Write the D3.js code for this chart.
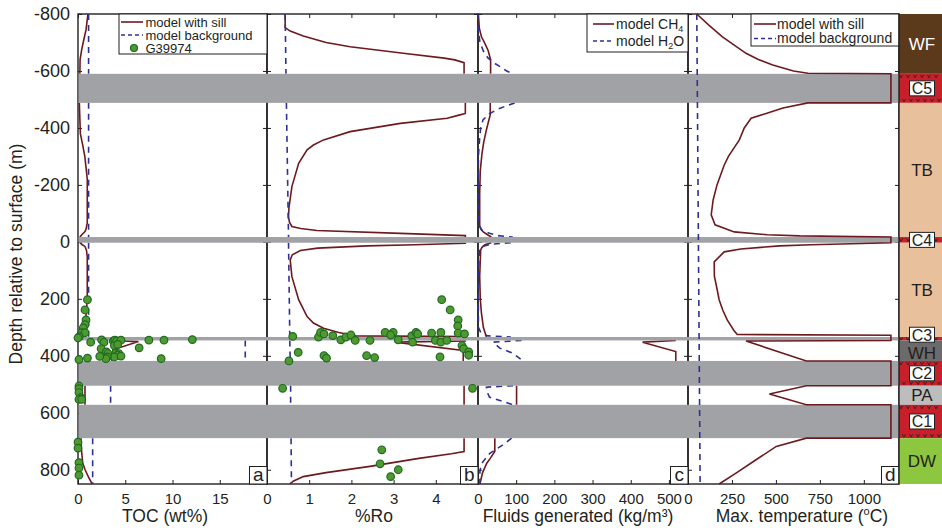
<!DOCTYPE html>
<meta charset="utf-8">
<style>
body {
    margin: 0px;
    background: #fff;
    font-family: "Liberation Sans", Arial, sans-serif;
}
text { fill: #231f20; }
.tick text { font-size: 15px; fill: #231f20; }
.ylab .tick text { font-size: 18px; }
.tick line { stroke: #231f20; stroke-width: 1; }
.border { fill: none; stroke: #231f20; stroke-width: 1.4; }
.sill-line { fill: none; stroke: #6d1a1f; stroke-width: 1.6; }
.bg-line { fill: none; stroke: #2e3192; stroke-width: 1.6; stroke-dasharray: 6,5; }
.band { fill: #a1a2a6; }
.obs { fill: #4f9a2f; stroke: #1f6a25; stroke-width: 1.2; }
.title { font-size: 17.5px; }
.legend text { font-size: 13px; }
.letter { font-size: 19px; }
.unit { font-size: 17px; }
.vmark { fill: none; stroke: #231f20; stroke-width: 0.8; }
</style>
<body>
<script src="https://d3js.org/d3.v7.min.js"></script>
<script>
var width = 942,
    height = 530

// depth axis
var depthTicks = [-800, -600, -400, -200, 0, 200, 400, 600, 800]

// x tick values for each panel
var tocTicks = [0, 5, 10, 15]
var roTicks = [0, 1, 2, 3, 4]
var fluidTicks = [0, 100, 200, 300, 400, 500]
var tempTicks = [0, 250, 500, 750, 1000]

// sills (depth top, base in m)
var sills = [
  {name: "C5", top: -590, base: -488},
  {name: "C4", top: -17, base: 3},
  {name: "C3", top: 334, base: 346},
  {name: "C2", top: 418, base: 505},
  {name: "C1", top: 572, base: 689}
]

// stratigraphic column
var units = [
  {name: "WF", kind: "WF", top: -800, base: -590},
  {name: "C5", kind: "C", top: -590, base: -488},
  {name: "TB", kind: "TB", top: -488, base: -17},
  {name: "C4", kind: "C", top: -17, base: 3},
  {name: "TB", kind: "TB", top: 3, base: 334},
  {name: "C3", kind: "C", top: 334, base: 346},
  {name: "WH", kind: "WH", top: 346, base: 418},
  {name: "C2", kind: "C", top: 418, base: 505},
  {name: "PA", kind: "PA", top: 505, base: 572},
  {name: "C1", kind: "C", top: 572, base: 689},
  {name: "DW", kind: "DW", top: 689, base: 850}
]

// curves: segments of [depth, value]
var tocSill = [
  [[-800,1.05],[-780,0.98],[-745,0.85],[-700,0.55],[-675,0.39],[-640,0.22],[-590,0.2]],
  [[-488,0.14],[-380,0.25],[-340,0.5],[-300,0.72],[-264,0.84],[-220,0.98],[-67,0.98],[-45,0.85],[-36,0.74],[-25,0.4],[-17,0.2]],
  [[3,0.2],[10,0.45],[16,0.74],[30,0.9],[52,0.98],[203,0.98],[262,0.84],[298,0.7],[320,0.56],[334,0.14]],
  [[346,3.55],[350,6.4],[379,3.7],[418,3.55]],
  [[505,0.74],[572,0.74]],
  [[689,0.32],[720,0.35],[750,0.42],[776,0.5],[800,0.75],[825,1.1],[850,1.5]]
]
var tocBg = [
  [[-800,1.12],[-590,1.12]],
  [[-488,1.12],[-17,1.12]],
  [[3,1.12],[334,1.12]],
  [[346,17.7],[418,17.7]],
  [[505,3.45],[572,3.45]],
  [[689,1.55],[850,1.55]]
]
var tocObs = [
  [203,1.0],[239,0.74],[274,0.85],[291,0.74],[302,0.56],[319,0.4],[319,0.74],[333,0.14],[337,0],
  [352,1.34],[344,2.5],[352,2.75],[348,3.73],[345,3.9],[348,4.1],[345,4.55],[364,3.85],[360,4.2],
  [375,2.45],[372,6.47],[345,7.5],[345,9.1],[343,12.1],[386,3.0],[392,3.17],[390,4.0],[392,4.32],
  [398,4.2],[404,3.85],[404,3.1],[410,2.95],[402,2.3],[408,1.0],[413,0.1],[410,8.8],[401,4.55],
  [506,0.1],[515,0.1],[529,0.1],[547,0.3],[553,0.1],[553,0.4],[703,0],[724,0],[775,0.1],[794,0.1],[819,0.1]
]

var roSill = [
  [[-800,0.43],[-752,0.43],[-740,0.55],[-723,0.86],[-700,1.4],[-685,1.97],[-662,3.23],[-645,4.2],[-639,4.45],[-629,4.67],[-590,4.67]],
  [[-488,4.7],[-451,4.7],[-445,4.55],[-434,4.27],[-416,3.16],[-387,1.97],[-358,1.34],[-340,1.1],[-323,0.95],[-276,0.75],[-194,0.59],[-120,0.52],[-89,0.51],[-70,0.53],[-54,0.59],[-47,0.8],[-40,1.18],[-30,3.16],[-22,4.7],[-17,4.7]],
  [[3,4.7],[5,4.7],[10,3.5],[14,2.37],[22,1.2],[30,0.79],[45,0.6],[63,0.55],[122,0.59],[203,0.75],[262,0.95],[285,1.1],[303,1.34],[318,1.7],[326,1.97],[330,2.1],[332,4.7],[334,4.7]],
  [[346,4.7],[348,4.7],[352,3.03],[381,4.65],[418,4.65]],
  [[505,4.67],[572,4.67]],
  [[689,4.67],[736,4.67],[744,4.37],[760,3.6],[788,2.44],[810,1.4],[824,0.86],[840,0.62],[850,0.54]]
]
var roBg = [
  [[-800,0.43],[-590,0.45]],
  [[-488,0.46],[-17,0.51]],
  [[3,0.51],[334,0.54]],
  [[346,0.54],[418,0.55]],
  [[505,0.56],[572,0.56]],
  [[689,0.57],[850,0.58]]
]
var roObs = [
  [203,4.14],[239,4.34],[274,4.53],[295,4.52],[320,4.53],[323,4.68],[332,0.61],[334,1.22],[318,1.27],
  [323,1.35],[329,1.56],[344,1.75],[334,1.87],[327,1.99],[346,2.09],[346,2.44],[318,2.8],[318,2.99],
  [327,2.93],[344,3.11],[330,3.43],[352,3.45],[318,3.53],[323,3.57],[320,3.9],[346,3.99],[318,4.12],
  [352,4.12],[346,4.26],[364,4.62],[375,4.66],[386,4.78],[398,4.78],[404,4.1],[388,0.74],[418,0.52],
  [399,1.35],[408,1.41],[399,2.36],[406,2.55],[514,0.37],[514,4.87],[730,2.72],[779,2.68],[800,3.11],[824,2.93]
]

var ch4Sill = [
  [[-800,1],[-750,3.5],[-720,9],[-697,18],[-670,27],[-639,33],[-590,33]],
  [[-488,32],[-446,32],[-420,27],[-393,22],[-350,15],[-311,10.5],[-250,6],[-171,4.4],[-54,4.4],[-45,8],[-36,13],[-25,25],[-17,35]],
  [[3,35],[10,18],[20,10],[28,7],[122,4.4],[200,6],[250,9],[300,14],[334,22]],
  [[346,518],[352,431],[385,518],[418,518]],
  [[505,101],[572,101]],
  [[689,44],[736,44],[760,32],[777,23],[810,12],[850,5]]
]
var h2oSill = [
  [[-800,0],[-768,0],[-740,1],[-702,5],[-670,14],[-646,26],[-630,40],[-615,58],[-600,75],[-590,92]],
  [[-488,96],[-478,75],[-466,52],[-450,30],[-428,13],[-400,7],[-358,4],[-300,1],[-100,1],[-60,3],[-42,9],[-30,30],[-22,52],[-17,91]],
  [[3,86],[8,34],[15,14],[30,4],[100,1],[300,1],[320,8],[330,26],[334,86]],
  [[346,114],[352,40],[373,57],[390,90],[418,118]],
  [[505,92],[510,22],[530,25],[545,30],[572,92]],
  [[689,88],[712,66],[742,31],[777,10],[804,5],[850,5]]
]

var tempSill = [
  [[-800,50],[-760,120],[-720,196],[-690,265],[-662,330],[-640,400],[-621,482],[-600,600],[-592,682],[-590,1154],
   [-488,1154],[-488,682],[-470,540],[-450,440],[-434,359],[-400,320],[-358,292],[-300,230],[-270,206],[-200,165],
   [-147,143],[-95,132],[-60,154],[-35,263],[-25,450],[-21,635],[-17,1154],[3,1154],[10,700],[14,520],[25,300],
   [35,206],[70,149],[120,150],[168,166],[203,177],[240,198],[274,223],[310,260],[325,280],[328,1154],[346,1154],
   [348,330],[418,673],[418,1154],[505,1154],[505,673],[534,463],[572,673],[572,1154],[689,1154],[689,673],
   [718,502],[765,387],[812,273],[850,177]]
]
var tempBg = [
  [[-800,50],[850,69]]
]

var unitColor = {WF: "#5b3a1c", C: "#c8202b", TB: "#e8c09b", WH: "#6b6b6b", PA: "#bdbdbd", DW: "#8dc63f"}

var plotTop = 14, plotBottom = 484

var y = d3.scaleLinear()
    .domain([-800, 850])
    .range([plotTop, plotBottom])

var panels = [
  {id: "a", range: [78, 267], domain: [0, 20], ticks: tocTicks, title: "TOC (wt%)", titleX: 165,
   sill: tocSill, bg: tocBg, obs: tocObs},
  {id: "b", range: [267, 478], domain: [0, 5], ticks: roTicks, title: "%Ro", titleX: 374,
   sill: roSill, bg: roBg, obs: roObs},
  {id: "c", range: [478, 688], domain: [0, 550], ticks: fluidTicks, title: "Fluids generated (kg/m\u00b3)", titleX: 578,
   sill: ch4Sill, bg: h2oSill, obs: []},
  {id: "d", range: [688, 899], domain: [0, 1200], ticks: tempTicks, title: null, titleX: 802,
   sill: tempSill, bg: tempBg, obs: []}
]

var svg = d3.select("body").append("svg")
    .attr("width", width)
    .attr("height", height)

panels.forEach(function(p) {
    p.x = d3.scaleLinear().domain(p.domain).range(p.range)
})

function lineFor(x) {
    return d3.line()
        .x(function(d) { return x(d[1]) })
        .y(function(d) { return y(d[0]) })
}

// plain hyphen for negatives, like the original
var fmt = function(d) { return String(d) }

// 1. borders and ticks (under the data, like the original)
panels.forEach(function(p) {
    var g = svg.append("g")
    g.append("g").attr("transform", "translate(" + p.range[0] + ",0)")
        .call(d3.axisRight(y).tickValues(depthTicks).tickSize(4).tickFormat(""))
    g.append("g").attr("transform", "translate(" + p.range[1] + ",0)")
        .call(d3.axisLeft(y).tickValues(depthTicks).tickSize(4).tickFormat(""))
    g.append("g").attr("transform", "translate(0," + plotBottom + ")")
        .call(d3.axisTop(p.x).tickValues(p.ticks).tickSize(4).tickFormat(""))
    g.append("g").attr("transform", "translate(0," + plotTop + ")")
        .call(d3.axisBottom(p.x).tickValues(p.ticks).tickSize(4).tickFormat(""))
    g.append("g").attr("transform", "translate(0," + plotBottom + ")")
        .call(d3.axisBottom(p.x).tickValues(p.ticks).tickSize(0).tickPadding(9).tickFormat(fmt))
    g.selectAll(".domain").remove()
    g.selectAll(".tick text").attr("font-family", null).attr("font-size", null)

    g.append("rect").attr("class", "border")
        .attr("x", p.range[0]).attr("y", plotTop)
        .attr("width", p.range[1] - p.range[0]).attr("height", plotBottom - plotTop)
})

// depth labels
var yl = svg.append("g").attr("class", "ylab")
    .attr("transform", "translate(78,0)")
    .call(d3.axisLeft(y).tickValues(depthTicks).tickSize(0).tickPadding(8).tickFormat(fmt))
yl.select(".domain").remove()
yl.selectAll(".tick text").attr("font-family", null).attr("font-size", null)

// 2. model curves for a, b, c (sill bands drawn over them)
panels.slice(0, 3).forEach(function(p) {
    var line = lineFor(p.x)
    svg.append("g").selectAll("path").data(p.sill).enter().append("path")
        .attr("class", "sill-line").attr("d", line)
    svg.append("g").selectAll("path").data(p.bg).enter().append("path")
        .attr("class", "bg-line").attr("d", line)
})

// 3. sill bands
svg.append("g").selectAll("rect").data(sills).enter().append("rect")
    .attr("class", "band")
    .attr("x", 78.7)
    .attr("width", 899 - 78.7)
    .attr("y", function(d) { return y(d.top) })
    .attr("height", function(d) { return y(d.base) - y(d.top) })

// 4. temperature curves on top of bands
var pd = panels[3]
svg.append("g").selectAll("path").data(pd.bg).enter().append("path")
    .attr("class", "bg-line").attr("d", lineFor(pd.x))
svg.append("g").selectAll("path").data(pd.sill).enter().append("path")
    .attr("class", "sill-line").attr("d", lineFor(pd.x))
    .style("stroke-linejoin", "miter")

// 5. observations
panels.forEach(function(p) {
    svg.append("g").selectAll("circle").data(p.obs).enter().append("circle")
        .attr("class", "obs")
        .attr("cx", function(d) { return p.x(d[1]) })
        .attr("cy", function(d) { return y(d[0]) })
        .attr("r", 3.8)
})

// 6. panel letters
panels.forEach(function(p) {
    svg.append("rect")
        .attr("x", p.range[1] - 17.5).attr("y", plotBottom - 17.5)
        .attr("width", 17.5).attr("height", 17.5)
        .attr("fill", "#fff").attr("stroke", "#231f20").attr("stroke-width", 1)
    svg.append("text").attr("class", "letter")
        .attr("x", p.range[1] - 8.75).attr("y", plotBottom - 3.5)
        .attr("text-anchor", "middle")
        .text(p.id)
})

// 7. axis titles
panels.forEach(function(p) {
    var t = svg.append("text").attr("class", "title")
        .attr("x", p.titleX).attr("y", 522)
        .attr("text-anchor", "middle")
    if (p.title) {
        t.text(p.title)
    } else {
        t.append("tspan").text("Max. temperature (")
        t.append("tspan").attr("dy", -7).style("font-size", "11px").text("o")
        t.append("tspan").attr("dy", 7).text("C)")
    }
})

svg.append("text").attr("class", "title")
    .attr("transform", "translate(22,254) rotate(-90)")
    .attr("text-anchor", "middle")
    .text("Depth relative to surface (m)")

// 8. legends
function legendBox(x0, y0, w, h) {
    var g = svg.append("g").attr("class", "legend")
    g.append("rect").attr("x", x0).attr("y", y0).attr("width", w).attr("height", h)
        .attr("fill", "#fff").attr("stroke", "#231f20").attr("stroke-width", 1)
    return g
}

var la = legendBox(119, 14, 148, 40)
la.append("line").attr("class", "sill-line").attr("x1", 121).attr("x2", 143).attr("y1", 22).attr("y2", 22)
la.append("line").attr("class", "bg-line").attr("x1", 121).attr("x2", 143).attr("y1", 35).attr("y2", 35)
    .style("stroke-dasharray", "4,3")
la.append("circle").attr("class", "obs").attr("cx", 134).attr("cy", 48).attr("r", 3.5)
la.append("text").attr("x", 145.5).attr("y", 26.5).text("model with sill")
la.append("text").attr("x", 145.5).attr("y", 39.5).text("model background")
la.append("text").attr("x", 145.5).attr("y", 52.5).text("G39974")

var lc = legendBox(587, 14, 101, 38)
lc.append("line").attr("class", "sill-line").attr("x1", 593).attr("x2", 614).attr("y1", 24).attr("y2", 24)
lc.append("line").attr("class", "bg-line").attr("x1", 593).attr("x2", 614).attr("y1", 41).attr("y2", 41)
    .style("stroke-dasharray", "4,3")
var t1 = lc.append("text").attr("x", 616).attr("y", 28.5).style("font-size", "14px")
t1.append("tspan").text("model CH")
t1.append("tspan").attr("dy", 3).style("font-size", "9px").text("4")
var t2 = lc.append("text").attr("x", 616).attr("y", 45.5).style("font-size", "14px")
t2.append("tspan").text("model H")
t2.append("tspan").attr("dy", 3).style("font-size", "9px").text("2")
t2.append("tspan").attr("dy", -3).text("O")

var ld = legendBox(751, 14, 148, 32)
ld.append("line").attr("class", "sill-line").attr("x1", 754).attr("x2", 776).attr("y1", 24).attr("y2", 24)
ld.append("line").attr("class", "bg-line").attr("x1", 754).attr("x2", 776).attr("y1", 38.5).attr("y2", 38.5)
    .style("stroke-dasharray", "4,3")
ld.append("text").attr("x", 777).attr("y", 28.5).style("font-size", "14px").text("model with sill")
ld.append("text").attr("x", 777).attr("y", 42.5).style("font-size", "14px").text("model background")

// 9. stratigraphic column
var sx0 = 899, sx1 = 942, smid = 921.5
var col = svg.append("g")
col.selectAll("rect").data(units).enter().append("rect")
    .attr("x", sx0).attr("width", sx1 - sx0)
    .attr("y", function(d) { return y(d.top) })
    .attr("height", function(d) { return y(d.base) - y(d.top) })
    .attr("fill", function(d) { return unitColor[d.kind] })

// little "v" marks in the igneous layers
var vpath = d3.path()
units.filter(function(d) { return d.kind === "C" }).forEach(function(d) {
    var yt = y(d.top), yb = y(d.base)
    var rows = (yb - yt) < 10 ? [(yt + yb) / 2 + 1.5] : [yt + 4, yb - 1]
    rows.forEach(function(ry, i) {
        for (var vx = 901 + i * 3; vx < sx1 - 2; vx += 7) {
            vpath.moveTo(vx - 1.6, ry - 3)
            vpath.lineTo(vx, ry)
            vpath.lineTo(vx + 1.6, ry - 3)
        }
    })
})
col.append("path").attr("class", "vmark").attr("d", vpath.toString())

col.append("line").attr("x1", sx0).attr("x2", sx0).attr("y1", plotTop).attr("y2", plotBottom)
    .attr("stroke", "#231f20").attr("stroke-width", 1.4)

units.forEach(function(d) {
    var cy = (y(d.top) + y(d.base)) / 2
    if (d.name === "C3") cy -= 4
    if (d.name === "WH") cy += 2.5
    if (d.kind === "C") {
        col.append("rect").attr("x", smid - 12).attr("y", cy - 7.5).attr("width", 25).attr("height", 15)
            .attr("fill", "#fff").attr("stroke", "#231f20").attr("stroke-width", 1)
    }
    col.append("text").attr("class", "unit")
        .attr("x", smid + 0.5).attr("y", cy + 6)
        .style("font-size", d.kind === "C" ? "16px" : null)
        .attr("text-anchor", "middle")
        .style("fill", d.kind === "WF" ? "#ffffff" : "#231f20")
        .text(d.name)
})
</script>
</body>
